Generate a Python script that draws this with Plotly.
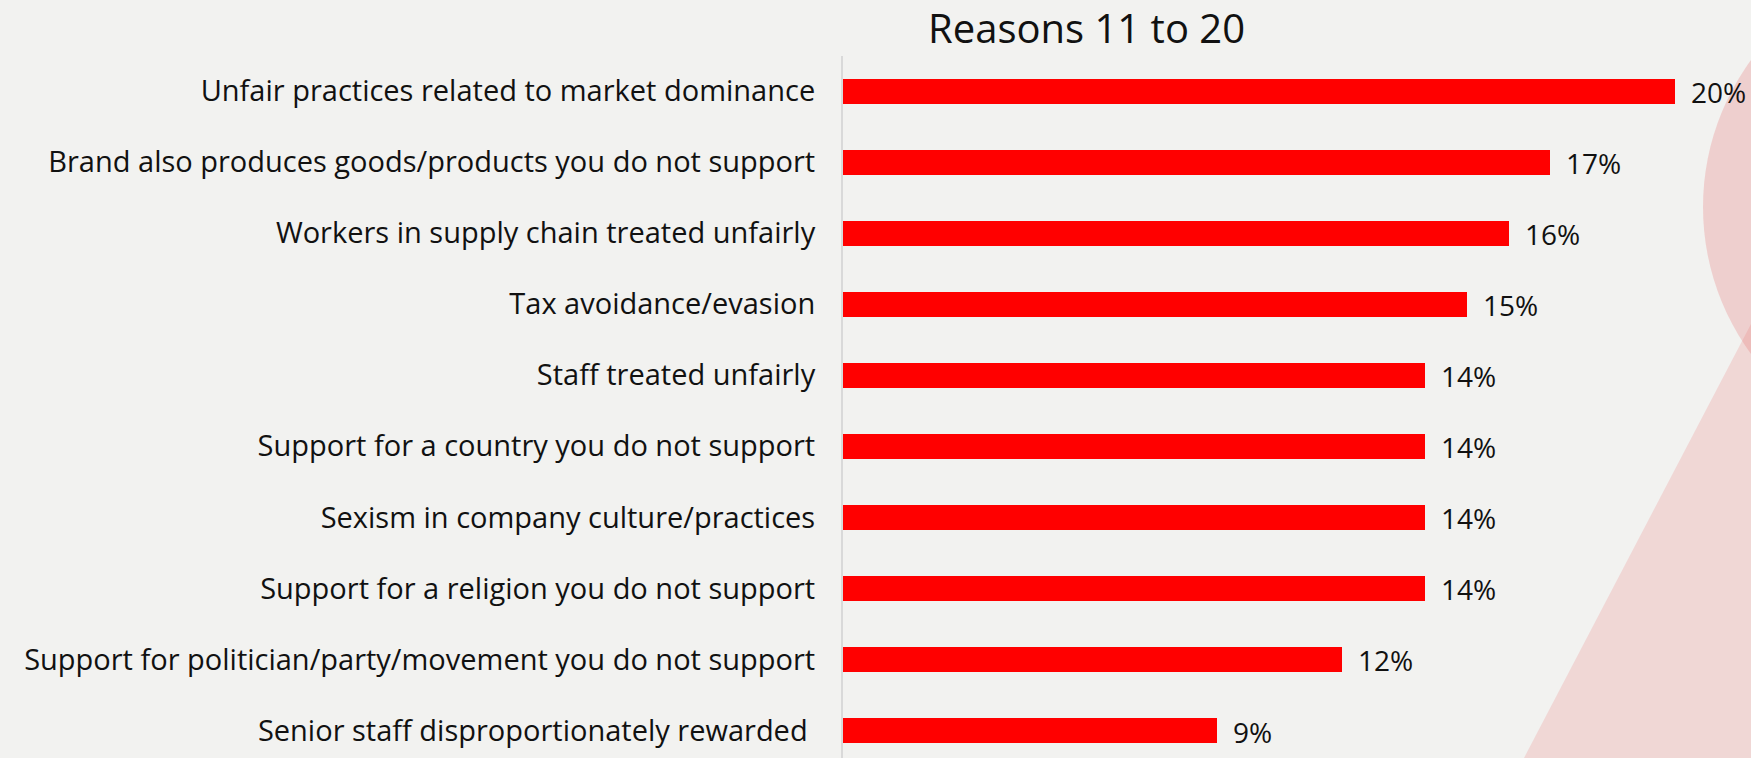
import plotly.graph_objects as go

categories = [
    "Unfair practices related to market dominance",
    "Brand also produces goods/products you do not support",
    "Workers in supply chain treated unfairly",
    "Tax avoidance/evasion",
    "Staff treated unfairly",
    "Support for a country you do not support",
    "Sexism in company culture/practices",
    "Support for a religion you do not support",
    "Support for politician/party/movement you do not support",
    "Senior staff disproportionately rewarded\u00a0",
]
values = [20, 17, 16, 15, 14, 14, 14, 14, 12, 9]
value_labels = [f"{v}%" for v in values]
title_text = "Reasons 11 to 20"

W, H = 1751, 758
BG = "#F2F2F0"
FONT = "Open Sans"
TEXT = "#111111"

# plot area geometry (pixels)
left, top = 843, 56
plot_w, plot_h = W - left, H - top
px_per_unit = 41.6
row_px = 71.06
first_row_px = 91 - top

positions = list(range(len(categories)))

fig = go.Figure(
    go.Bar(
        x=values,
        y=positions,
        orientation="h",
        width=25 / row_px,
        marker=dict(color="#FF0000", line=dict(width=0)),
        hoverinfo="skip",
    )
)

y_top = -first_row_px / row_px
y_bottom = y_top + plot_h / row_px


def px_to_paper_x(px):
    return (px - left) / plot_w


def px_to_paper_y(py):
    return 1 - (py - top) / plot_h


# value labels just past the end of each bar
annotations = [
    dict(
        x=v, y=p, xref="x", yref="y",
        text=lbl,
        xanchor="left", yanchor="middle",
        xshift=14, yshift=-1,
        showarrow=False,
        font=dict(family=FONT, size=28, color=TEXT, weight=400),
    )
    for v, p, lbl in zip(values, positions, value_labels)
]

annotations.append(
    dict(
        text=title_text,
        xref="paper", yref="paper",
        x=px_to_paper_x(1086), y=px_to_paper_y(28),
        xanchor="center", yanchor="middle",
        showarrow=False,
        font=dict(family=FONT, size=40, color=TEXT, weight=400),
    )
)

# decorative background shapes on the right
shapes = [
    dict(
        type="path",
        xref="paper", yref="paper",
        path=(
            f"M {px_to_paper_x(1524)} {px_to_paper_y(758)} "
            f"L {px_to_paper_x(1751 + 80)} {px_to_paper_y(758 - 434 * (307 / 227))} "
            f"L {px_to_paper_x(1751 + 80)} {px_to_paper_y(758)} Z"
        ),
        fillcolor="rgba(230,120,120,0.22)",
        line=dict(width=0),
        layer="below",
    ),
    dict(
        type="circle",
        xref="paper", yref="paper",
        x0=px_to_paper_x(1952 - 249), x1=px_to_paper_x(1952 + 249),
        y0=px_to_paper_y(207 + 249), y1=px_to_paper_y(207 - 249),
        fillcolor="rgba(230,120,120,0.28)",
        line=dict(width=0),
        layer="below",
    ),
]

fig.update_layout(
    width=W,
    height=H,
    margin=dict(l=left, r=0, t=top, b=0, pad=0),
    paper_bgcolor=BG,
    plot_bgcolor="rgba(0,0,0,0)",
    showlegend=False,
    bargap=0,
    shapes=shapes,
    annotations=annotations,
    xaxis=dict(
        range=[0, plot_w / px_per_unit],
        visible=False,
        showgrid=False,
        zeroline=False,
    ),
    yaxis=dict(
        range=[y_bottom, y_top],
        tickmode="array",
        tickvals=positions,
        ticktext=categories,
        tickfont=dict(family=FONT, size=29, color=TEXT, weight=400),
        ticks="",
        ticklabelstandoff=20,
        showgrid=False,
        zeroline=False,
        showline=True,
        linecolor="#D9D9D9",
        linewidth=2,
    ),
)

fig.write_html("out.html")
